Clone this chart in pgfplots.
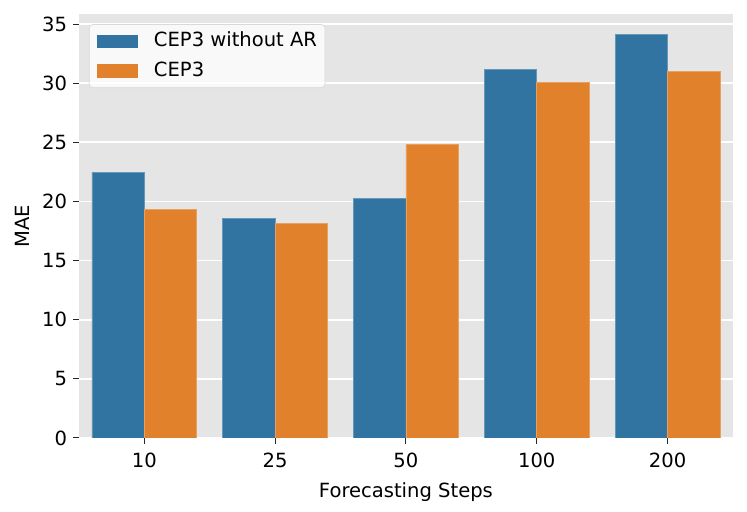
\documentclass[border=0pt]{standalone}
\usepackage{pgfplots}
\pgfplotsset{compat=1.18}
\usepackage{fontspec}
\setmainfont{DejaVu Sans}
\definecolor{sbblue}{HTML}{3274A1}
\definecolor{sborange}{HTML}{E1812C}
\definecolor{bggray}{HTML}{E5E5E5}
\begin{document}
\begin{tikzpicture}
\begin{axis}[
  width=368pt, height=238.5pt, scale only axis,
  xmin=-0.5, xmax=4.5, ymin=0, ymax=35.85,
  bar width=0.4,
  xtick={0,1,2,3,4}, xticklabels={10,25,50,100,200},
  ytick={0,5,...,35},
  axis background/.style={fill=bggray},
  axis line style={draw=none},
  ymajorgrids, grid style={white, line width=1pt},
  tick style={color=black!85, line width=0.6pt},
  major tick length=3.2pt,
  tick align=outside, xtick pos=bottom, ytick pos=left,
  /pgf/number format/assume math mode=true,
  ticklabel style={font=\fontsize{11}{13}\selectfont, text=black},
  xticklabel style={yshift=-1.5pt},
  label style={font=\fontsize{11}{13}\selectfont},
  xlabel style={yshift=-1.5pt},
  xlabel={Forecasting Steps}, ylabel={MAE},
  legend cell align=left,
  legend style={at={(0.0153,0.976)}, anchor=north west, fill=white, fill opacity=0.8, text opacity=1,
    draw=black!15, rounded corners=2pt, font=\fontsize{11}{13}\selectfont, row sep=2.5pt,
    inner xsep=4.5pt, inner ysep=2.5pt,
    nodes={inner xsep=0pt, inner ysep=2pt, text height=8pt, text depth=2pt},
    /tikz/every odd column/.style={column sep=9pt}},
]
\addplot[ybar, bar shift=-0.2, fill=sbblue, draw=sbblue!75!white, line width=0.4pt, forget plot] coordinates {(0,22.45) (1,18.55) (2,20.27) (3,31.13) (4,34.15)};
\addplot[ybar, bar shift=0.2, fill=sborange, draw=sborange!75!white, line width=0.4pt, forget plot] coordinates {(0,19.31) (1,18.16) (2,24.81) (3,30.06) (4,30.99)};
\addlegendimage{legend image code/.code={\fill[sbblue, fill opacity=1, sharp corners] (0pt,-3.6pt) rectangle (22.5pt,3.6pt);}}
\addlegendentry{CEP3 without AR}
\addlegendimage{legend image code/.code={\fill[sborange, fill opacity=1, sharp corners] (0pt,-3.6pt) rectangle (22.5pt,3.6pt);}}
\addlegendentry{CEP3}
\end{axis}
\path ([xshift=-44.4pt,yshift=-41.6pt]current axis.south west) rectangle ([xshift=7.9pt,yshift=7.9pt]current axis.north east);
\end{tikzpicture}
\end{document}
